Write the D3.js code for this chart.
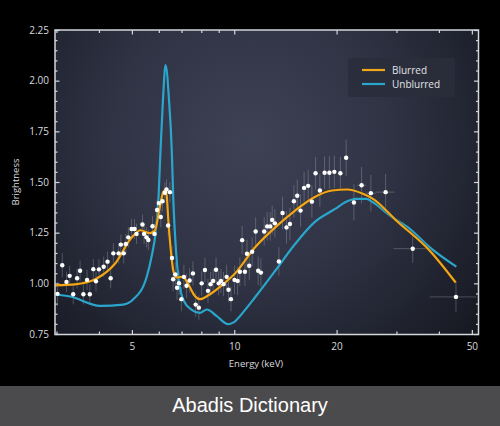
<!DOCTYPE html>
<html><head><meta charset="utf-8">
<script src="https://cdn.jsdelivr.net/npm/d3@7/dist/d3.min.js"></script>
<style>
html,body{margin:0;padding:0;background:#000;}
svg{display:block;}
</style></head><body>
<svg id="c" width="500" height="426"></svg>
<script>
// ---- data ----
const energy = [3.02,3.12,3.21,3.28,3.36,3.45,3.52,3.60,3.69,3.76,
 3.85,3.92,4.00,4.13,4.24,4.33,4.41,4.57,4.64,4.73,
 4.80,4.88,4.99,5.09,5.16,5.37,5.43,5.52,5.59,5.75,
 5.83,5.93,6.00,6.08,6.15,6.25,6.32,6.47,6.39,6.56,
 6.61,6.71,6.79,6.88,6.99,7.11,7.24,7.39,7.56,7.70,
 7.87,8.02,8.20,8.37,8.52,8.67,8.84,9.00,9.14,9.30,
 9.50,9.62,9.78,10.02,10.23,10.39,10.55,10.75,10.90,11.07,
 11.29,11.56,11.76,11.98,12.25,12.50,12.76,12.93,13.17,13.53,
 13.87,14.25,14.58,14.98,15.32,15.67,16.05,16.50,16.92,17.35,
 17.86,18.44,19.05,19.70,20.52,21.34,22.49,23.69,25.23,27.88,
 33.5,44.9];
const brightness = [0.948,1.089,1.007,1.037,0.946,1.025,1.062,0.946,1.017,0.946,
 1.070,1.010,1.069,1.082,1.107,1.025,1.148,1.148,1.191,1.148,
 1.194,1.227,1.268,1.268,1.244,1.290,1.244,1.227,1.214,1.282,
 1.244,1.362,1.396,1.327,1.405,1.447,1.463,1.450,1.285,1.125,
 1.020,1.044,0.978,1.001,0.922,1.032,0.988,1.014,1.049,0.895,
 0.880,1.000,1.066,0.963,0.996,1.012,1.067,1.000,1.012,0.996,
 1.032,0.968,0.922,1.017,1.012,1.057,1.213,1.057,1.146,1.087,
 1.156,1.256,1.062,1.053,1.256,1.281,1.281,1.313,1.296,1.108,
 1.347,1.276,1.293,1.405,1.432,1.359,1.471,1.481,1.403,1.543,
 1.458,1.546,1.546,1.550,1.543,1.620,1.399,1.484,1.445,1.450,
 1.171,0.933];
const brightnessErr = [0.06,0.06,0.05,0.05,0.05,0.05,0.05,0.05,0.05,0.05,
 0.05,0.05,0.05,0.05,0.05,0.05,0.05,0.05,0.05,0.05,
 0.05,0.05,0.05,0.05,0.05,0.05,0.05,0.05,0.05,0.05,
 0.05,0.05,0.05,0.05,0.05,0.05,0.05,0.05,0.05,0.06,
 0.06,0.06,0.06,0.06,0.06,0.06,0.06,0.06,0.06,0.06,
 0.06,0.06,0.06,0.06,0.06,0.06,0.06,0.06,0.06,0.06,
 0.06,0.06,0.06,0.07,0.07,0.07,0.07,0.07,0.07,0.07,
 0.07,0.07,0.07,0.07,0.07,0.07,0.07,0.07,0.07,0.07,
 0.08,0.08,0.08,0.08,0.08,0.08,0.08,0.08,0.08,0.08,
 0.08,0.08,0.08,0.08,0.08,0.09,0.09,0.09,0.09,0.09,
 0.07,0.075];
const binIndex = [97, 98, 99, 100, 101];
const binLo = [23.0, 24.4, 26.1, 29.4, 37.6];
const binHi = [24.4, 26.1, 29.6, 37.6, 51.5];

const blurredE = [2.97,3.4,3.9,4.45,5.0,5.3,5.65,5.84,6.04,6.18,6.27,6.33,6.40,6.54,6.62,6.77,7.07,7.32,7.66,7.92,8.48,9.28,10.05,11.5,13.2,15.1,17.2,19.4,21.5,23.9,25.6,30.0,37.6,44.8];
const blurredB = [0.99,0.995,1.02,1.095,1.227,1.262,1.248,1.26,1.375,1.45,1.46,1.43,1.31,1.128,1.062,1.029,1.032,0.996,0.938,0.922,0.946,0.996,1.048,1.177,1.276,1.359,1.425,1.458,1.463,1.442,1.417,1.309,1.161,1.004];

const unblurredE = [2.97,3.29,4.03,4.71,5.04,5.52,5.72,5.88,5.98,6.07,6.17,6.28,6.43,6.55,6.62,6.74,6.87,7.11,7.50,7.92,8.31,8.87,9.6,9.93,10.7,11.5,13.2,15.1,17.2,19.8,21.2,22.9,24.5,25.6,28.7,32.9,37.6,45.0];
const unblurredB = [0.945,0.935,0.889,0.895,0.92,1.029,1.136,1.26,1.408,1.656,1.903,2.077,1.903,1.656,1.408,1.161,1.012,0.913,0.869,0.854,0.871,0.839,0.798,0.806,0.864,0.93,1.062,1.194,1.301,1.367,1.40,1.417,1.417,1.40,1.334,1.268,1.177,1.082];

const yMajor = [0.75,1.00,1.25,1.50,1.75,2.00,2.25];
const yMinor = d3.range(0.75, 2.2501, 0.05).map(v => +v.toFixed(2)).filter(v => !yMajor.includes(v));
const xMajor = [5, 10, 20, 50];
const xMinor = [3, 4, 6, 7, 8, 9, 30, 40];

// ---- layout ----
const svg = d3.select("#c");
const X0 = 55, X1 = 478.5, Y0 = 30, Y1 = 334.5;
const x = d3.scaleLog().domain([2.97, 52.3]).range([X0, X1]);
const y = d3.scaleLinear().domain([0.75, 2.25]).range([334, 30]);

svg.append("rect").attr("width", 500).attr("height", 426).attr("fill", "#000");

const defs = svg.append("defs");
const grad = defs.append("radialGradient").attr("id", "bg")
  .attr("gradientUnits", "userSpaceOnUse")
  .attr("cx", 250).attr("cy", 140).attr("r", 310);
grad.append("stop").attr("offset", "0").attr("stop-color", "#3e4255");
grad.append("stop").attr("offset", "0.45").attr("stop-color", "#2f3344");
grad.append("stop").attr("offset", "1").attr("stop-color", "#14161e");
defs.append("clipPath").attr("id", "clip").append("rect")
  .attr("x", X0).attr("y", Y0).attr("width", X1 - X0).attr("height", Y1 - Y0);

svg.append("rect").attr("x", X0).attr("y", Y0).attr("width", X1 - X0).attr("height", Y1 - Y0)
  .attr("fill", "url(#bg)");

// ---- axes ----
const font = "'Open Sans', 'DejaVu Sans', sans-serif";
function styleAxis(g) {
  g.select(".domain").remove();
  g.selectAll("line").attr("stroke", "#d4d6dc").attr("stroke-width", 1.2);
  g.selectAll("text").attr("fill", "#d9dadf").attr("font-size", 10).attr("font-family", font);
}
svg.append("g").attr("transform", `translate(${X0},0)`)
  .call(d3.axisLeft(y).tickValues(yMajor).tickSize(-4.5).tickPadding(6).tickFormat(d3.format(".2f"))).call(styleAxis);
svg.append("g").attr("transform", `translate(${X0},0)`)
  .call(d3.axisLeft(y).tickValues(yMinor).tickSize(-2.5).tickFormat("")).call(styleAxis);
svg.append("g").attr("transform", `translate(${X1},0)`)
  .call(d3.axisRight(y).tickValues(yMajor).tickSize(-4.5).tickFormat("")).call(styleAxis);
svg.append("g").attr("transform", `translate(${X1},0)`)
  .call(d3.axisRight(y).tickValues(yMinor).tickSize(-2.5).tickFormat("")).call(styleAxis);
svg.append("g").attr("transform", `translate(0,${Y1})`)
  .call(d3.axisBottom(x).tickValues(xMajor).tickSize(-4.5).tickPadding(8.5).tickFormat(d3.format("d"))).call(styleAxis);
svg.append("g").attr("transform", `translate(0,${Y1})`)
  .call(d3.axisBottom(x).tickValues(xMinor).tickSize(-3).tickFormat("")).call(styleAxis);
svg.append("g").attr("transform", `translate(0,${Y0})`)
  .call(d3.axisTop(x).tickValues(xMajor).tickSize(-4.5).tickFormat("")).call(styleAxis);
svg.append("g").attr("transform", `translate(0,${Y0})`)
  .call(d3.axisTop(x).tickValues(xMinor).tickSize(-3).tickFormat("")).call(styleAxis);

// ---- plot content ----
const plot = svg.append("g").attr("clip-path", "url(#clip)");
const pts = energy.map((e, i) => ({e, b: brightness[i], err: brightnessErr[i]}));

plot.append("g").selectAll("line").data(pts).join("line")
  .attr("x1", d => x(d.e)).attr("x2", d => x(d.e))
  .attr("y1", d => y(d.b - d.err)).attr("y2", d => y(d.b + d.err))
  .attr("stroke", "rgba(200,204,214,0.28)").attr("stroke-width", 1);
plot.append("g").selectAll("line").data(binIndex).join("line")
  .attr("x1", (d, i) => x(binLo[i])).attr("x2", (d, i) => x(binHi[i]))
  .attr("y1", d => y(brightness[d])).attr("y2", d => y(brightness[d]))
  .attr("stroke", "rgba(200,204,214,0.28)").attr("stroke-width", 1);

const line = d3.line().x(d => x(d[0])).y(d => y(d[1])).curve(d3.curveMonotoneX);
plot.append("path").datum(unblurredE.map((e, i) => [e, unblurredB[i]]))
  .attr("d", line).attr("fill", "none").attr("stroke", "#2aa6cc").attr("stroke-width", 2.2);
plot.append("path").datum(blurredE.map((e, i) => [e, blurredB[i]]))
  .attr("d", line).attr("fill", "none").attr("stroke", "#3a2a10").attr("stroke-width", 3.2).attr("stroke-opacity", 0.5);
plot.append("path").datum(blurredE.map((e, i) => [e, blurredB[i]]))
  .attr("d", line).attr("fill", "none").attr("stroke", "#f2a619").attr("stroke-width", 2.2);

plot.append("g").selectAll("circle").data(pts).join("circle")
  .attr("cx", d => x(d.e)).attr("cy", d => y(d.b)).attr("r", 2.2).attr("fill", "#fff");

// frame
svg.append("rect").attr("x", X0).attr("y", Y0).attr("width", X1 - X0).attr("height", Y1 - Y0)
  .attr("fill", "none").attr("stroke", "#d4d6dc").attr("stroke-width", 1.5);

// ---- legend ----
const lg = svg.append("g");
lg.append("rect").attr("x", 348).attr("y", 58).attr("width", 107).attr("height", 39).attr("rx", 3)
  .attr("fill", "#2a2e3b").attr("opacity", 0.9);
const legendItems = [["Blurred", "#f2a619"], ["Unblurred", "#2aa6cc"]];
legendItems.forEach(([t, c], i) => {
  const yy = 70 + i * 14;
  lg.append("line").attr("x1", 362).attr("x2", 385).attr("y1", yy).attr("y2", yy)
    .attr("stroke", c).attr("stroke-width", 2.2);
  lg.append("text").attr("x", 392).attr("y", yy).attr("dy", "0.35em").text(t)
    .attr("fill", "#e2e3e8").attr("font-size", 10).attr("font-family", font);
});

// ---- axis titles ----
svg.append("text").attr("x", 256).attr("y", 367).attr("text-anchor", "middle")
  .attr("fill", "#d9dadf").attr("font-size", 9.5).attr("font-family", font).text("Energy (keV)");
svg.append("text").attr("transform", "translate(19,182) rotate(-90)").attr("text-anchor", "middle")
  .attr("fill", "#d9dadf").attr("font-size", 9.5).attr("font-family", font).text("Brightness");

// ---- banner ----
svg.append("rect").attr("x", 0).attr("y", 386).attr("width", 500).attr("height", 40).attr("fill", "#4b4b4d");
svg.append("text").attr("x", 250).attr("y", 412).attr("text-anchor", "middle")
  .attr("fill", "#fff").attr("font-size", 20).attr("font-family", "'Liberation Sans', Arial, sans-serif")
  .text("Abadis Dictionary");
</script>
</body></html>
